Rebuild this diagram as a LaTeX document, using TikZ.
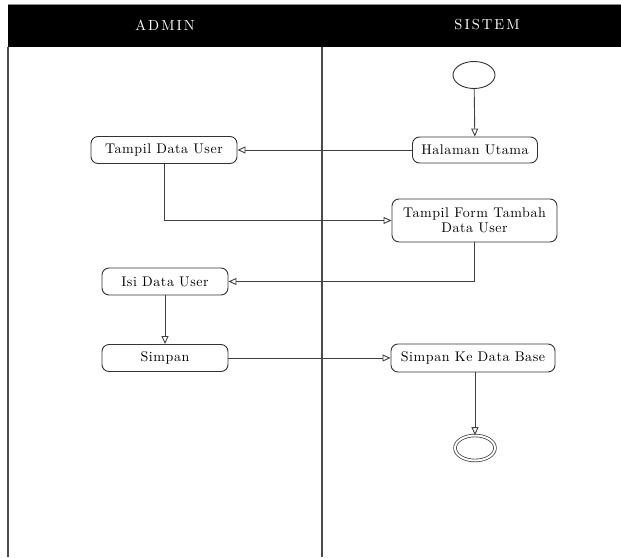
\documentclass[tikz,border=0pt]{standalone}
\usepackage{fontspec}
\newfontfamily\actfont[LetterSpace=4]{lmroman10-regular.otf}
\newfontfamily\headfont[LetterSpace=14]{lmroman10-regular.otf}
\usetikzlibrary{arrows.meta,shapes.geometric}
\begin{document}
\begin{tikzpicture}[x=1pt,y=-1pt,
  act/.style={draw=black!80,line width=0.9pt,rounded corners=7pt,align=center,
    inner sep=0pt,font=\actfont\fontsize{14}{15}\selectfont},
  head/.style={text=white,font=\headfont\fontsize{14.5}{15}\selectfont},
  flow/.style={draw=black!75,line width=0.9pt,-{Triangle[open,length=8pt,width=7pt]}},
  lane/.style={draw=black!70,line width=1.3pt}]
\useasboundingbox (0,0) rectangle (621,557);
% swimlanes
\fill[black] (8,5) rectangle (621,47);
\draw[black!45,line width=1pt] (8,4.5) -- (621,4.5);
\draw[lane] (8,47) -- (8,557);
\draw[lane] (322,47) -- (322,557);
\node[head] (admin) at (165,25) {ADMIN};
\node[head] (sistem) at (487,25) {SISTEM};
% start and end
\node[draw=black!80,line width=0.9pt,ellipse,minimum width=42pt,minimum height=27pt,inner sep=0pt] (start) at (474,75) {};
\node[draw=black!80,line width=0.7pt,double,double distance=2pt,ellipse,minimum width=40pt,minimum height=25pt,inner sep=0pt] (end) at (475,448) {};
% activities
\node[act,minimum width=146pt,minimum height=27pt] (tdu) at (164,150) {Tampil Data User};
\node[act,minimum width=125pt,minimum height=26pt] (home) at (475,150) {Halaman Utama};
\node[act,minimum width=165pt,minimum height=43pt] (tform) at (474.5,220.5) {Tampil Form Tambah\\Data User};
\node[act,minimum width=126pt,minimum height=27pt] (isi) at (165,281.5) {Isi Data User};
\node[act,minimum width=126pt,minimum height=27pt] (simpan) at (165,358) {Simpan};
\node[act,minimum width=164pt,minimum height=28pt] (simpandb) at (473,358) {Simpan Ke Data Base};
% flows
\draw[flow] (start) -- (home);
\draw[flow] (home) -- (tdu);
\draw[flow] (tdu.south) |- (tform.west);
\draw[flow] (tform.south) |- (isi.east);
\draw[flow] (isi) -- (simpan);
\draw[flow] (simpan) -- (simpandb);
\draw[flow] (simpandb.south -| end.north) -- (end.north);
\end{tikzpicture}
\end{document}
